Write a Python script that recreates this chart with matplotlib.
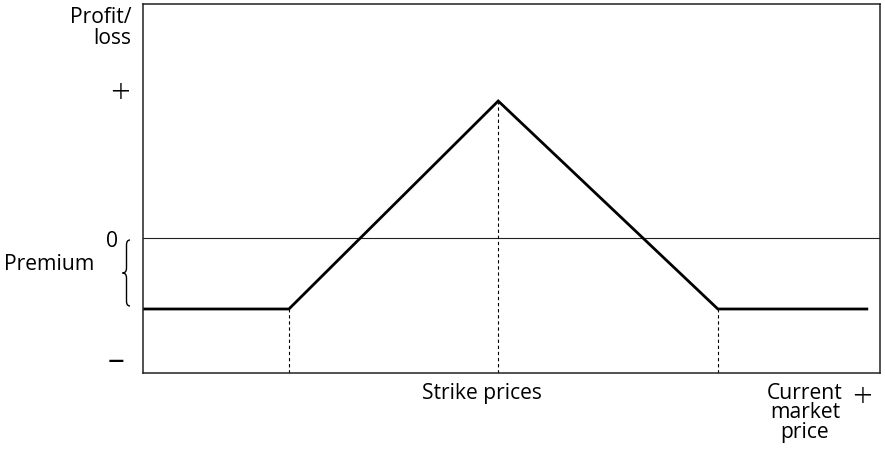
import matplotlib
matplotlib.use("Agg")
import matplotlib.pyplot as plt
from matplotlib.path import Path
from matplotlib.patches import PathPatch

plt.rcParams['font.family'] = ['Open Sans', 'DejaVu Sans']

# Payoff profile (price units 0..100, profit units)
price = [0.0, 19.8, 48.2, 78.0, 98.4]
profit = [-0.71, -0.71, 1.37, -0.71, -0.71]
strikes = [19.8, 48.2, 78.0]
strike_profit = [-0.71, 1.37, -0.71]
y_min, y_max = -1.35, 2.34

W, H = 885, 456
fig = plt.figure(figsize=(W / 100, H / 100), dpi=100)
ax = fig.add_axes([143 / W, 1 - 374 / H, 737 / W, 369 / H])
ax.set_xlim(0, 100)
ax.set_ylim(y_min, y_max)
ax.set_xticks([])
ax.set_yticks([])
for s in ax.spines.values():
    s.set_linewidth(1.1)
    s.set_color('#222222')

ax.axhline(0, color='#222222', lw=0.8)
ax.plot(price, profit, color='black', lw=2.0, solid_joinstyle='miter', solid_capstyle='butt')
for xs, ys in zip(strikes, strike_profit):
    ax.plot([xs, xs], [y_min, ys], color='black', lw=0.8, ls=(0, (3, 2.5)))

def ft(x, y, s, **kw):
    fig.text(x / W, 1 - y / H, s, **kw)

fs = 15.2
ft(131, 28, "Profit/\nloss", ha='right', va='center', fontsize=fs, linespacing=0.95)
ft(120, 94, "+", ha='center', va='center', fontsize=25, fontweight='light')
ft(112, 242, "0", ha='center', va='center', fontsize=fs)
ft(49, 264, "Premium", ha='center', va='center', fontsize=fs)
ft(116, 362, "\u2013", ha='center', va='center', fontsize=24)
ft(482, 394, "Strike prices", ha='center', va='center', fontsize=fs)
ft(805, 413, "Current\nmarket\nprice", ha='center', va='center', fontsize=fs, linespacing=0.93)
ft(862, 398, "+", ha='center', va='center', fontsize=25, fontweight='light')

# curly brace for premium
def px(x, y):
    return ((x - 143) / 737 * 100, y_max - (y - 5) / 369 * (y_max - y_min))

xr, xm, xl = 130, 126.5, 122.5
yt, yb = 241, 307
ym = (yt + yb) / 2
pts = [px(*p) for p in [
    (xr, yt), (xm, yt), (xm, yt + 5),
    (xm, ym - 5), (xm, ym), (xl, ym),
    (xm, ym), (xm, ym + 5),
    (xm, yb - 5), (xm, yb), (xr, yb)]]
codes = [Path.MOVETO, Path.CURVE3, Path.CURVE3,
         Path.LINETO, Path.CURVE3, Path.CURVE3,
         Path.CURVE3, Path.CURVE3,
         Path.LINETO, Path.CURVE3, Path.CURVE3]
patch = PathPatch(Path(pts, codes), fill=False, lw=1.0, color='black', clip_on=False)
ax.add_patch(patch)

fig.savefig("out.png", dpi=100)
